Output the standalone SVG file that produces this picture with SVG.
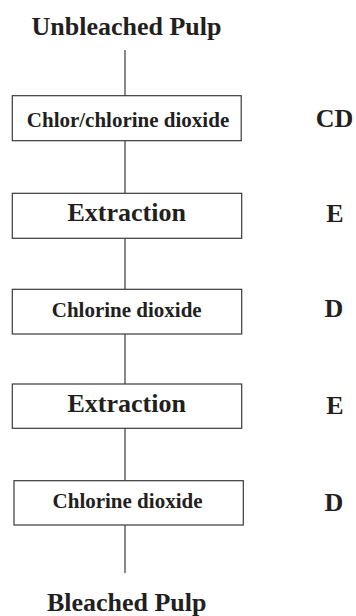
<svg xmlns="http://www.w3.org/2000/svg" width="356" height="616" viewBox="0 0 356 616">
<style>
.t{font-family:"Liberation Serif","Times New Roman",serif;font-weight:bold;fill:#231f20;text-anchor:middle}
.big{font-size:26px}
.sm{font-size:21px}
.box{fill:#fff;stroke:#3a3a3a;stroke-width:1.2}
.ln{stroke:#3a3a3a;stroke-width:1.2;fill:none}
</style>
<rect width="356" height="616" fill="#fff"/>
<g id="connectors">
<line class="ln" x1="125" y1="50" x2="125" y2="95.7"/>
<line class="ln" x1="125" y1="140.7" x2="125" y2="193.3"/>
<line class="ln" x1="125" y1="238.3" x2="125" y2="289.3"/>
<line class="ln" x1="125" y1="334" x2="125" y2="384"/>
<line class="ln" x1="125" y1="428.3" x2="125" y2="480.7"/>
<line class="ln" x1="125" y1="525" x2="125" y2="573"/>
</g>
<g id="start"><text class="t big" x="126.5" y="35">Unbleached Pulp</text></g>
<g id="stage1">
<rect class="box" x="12.3" y="95.7" width="228.9" height="45"/>
<text class="t sm" x="128" y="127.3">Chlor/chlorine dioxide</text>
<text class="t big" x="334.5" y="127.3">CD</text>
</g>
<g id="stage2">
<rect class="box" x="12.3" y="193.3" width="229.4" height="45"/>
<text class="t big" x="126.7" y="221">Extraction</text>
<text class="t big" x="335" y="222">E</text>
</g>
<g id="stage3">
<rect class="box" x="12.3" y="289.3" width="229.4" height="44.7"/>
<text class="t sm" x="126.7" y="316.7">Chlorine dioxide</text>
<text class="t big" x="334" y="317">D</text>
</g>
<g id="stage4">
<rect class="box" x="12.3" y="384" width="229.4" height="44.3"/>
<text class="t big" x="126.7" y="412.3">Extraction</text>
<text class="t big" x="335" y="414">E</text>
</g>
<g id="stage5">
<rect class="box" x="14" y="480.7" width="229.3" height="44.3"/>
<text class="t sm" x="127.5" y="508.3">Chlorine dioxide</text>
<text class="t big" x="334" y="510.5">D</text>
</g>
<g id="end"><text class="t big" x="126.7" y="611">Bleached Pulp</text></g>
</svg>
